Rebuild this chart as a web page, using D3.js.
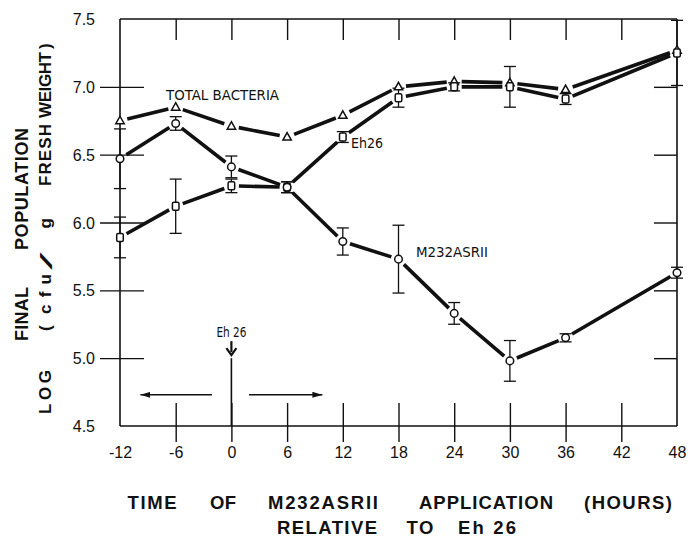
<!DOCTYPE html>
<html>
<head>
<meta charset="utf-8">
<script src="https://cdn.jsdelivr.net/npm/d3@7"></script>
<style>
  body { margin: 0; background: #fff; }
  svg { display: block; }
  text { font-family: "Liberation Sans", Arial, sans-serif; fill: #111; }
</style>
</head>
<body>
<div class="chart"></div>
<script>
// data
const hours = [-12, -6, 0, 6, 12, 18, 24, 30, 36, 48];
const totalBacteria = [6.75, 6.85, 6.71, 6.63, 6.79, 7.0, 7.04, 7.03, 6.98, 7.27];
const eh26 = [5.89, 6.12, 6.27, 6.26, 6.63, 6.92, 7.0, 7.0, 6.91, 7.25];
const eh26Err = [0.15, 0.2, 0.05, 0.04, 0.04, 0.07, 0.03, 0.15, 0.04, 0.24];
const m232 = [6.47, 6.73, 6.41, 6.26, 5.86, 5.73, 5.33, 4.98, 5.15, 5.63];
const m232Err = [0.22, 0.05, 0.08, 0.04, 0.1, 0.25, 0.08, 0.15, 0.03, 0.04];
const xTicks = [-12, -6, 0, 6, 12, 18, 24, 30, 36, 42, 48];
const yTicks = [4.5, 5.0, 5.5, 6.0, 6.5, 7.0, 7.5];

// annotation: Eh26 applied at hour 0, arrows before / after
const applyMark = { hour: 0, value: 5.0 };
const timeArrows = [
  { from: -2.1, to: -9.8, value: 4.73 },
  { from: 1.9, to: 9.8, value: 4.73 }
];

const W = 688, H = 539;
const svg = d3.select(".chart").append("svg").attr("width", W).attr("height", H);

const x = d3.scaleLinear().domain([-12, 48]).range([120, 677]);
const y = d3.scaleLinear().domain([4.5, 7.5]).range([426, 19]);

const ink = "#111";

// frame lines
svg.append("g").attr("stroke", ink).attr("stroke-width", 1.6).attr("fill", "none")
  .selectAll("line")
  .data([
    [x(-12), y(7.5), x(48), y(7.5)],
    [x(-12), y(4.5), x(48), y(4.5)],
    [x(-12), y(7.5), x(-12), y(4.5)],
    [x(48), y(7.5), x(48), y(4.5)]
  ])
  .join("line")
  .attr("x1", (d) => d[0]).attr("y1", (d) => d[1])
  .attr("x2", (d) => d[2]).attr("y2", (d) => d[3]);

// bottom axis
const xAxisG = svg.append("g")
  .attr("transform", `translate(0,${y(4.5)})`)
  .call(d3.axisBottom(x).tickValues(xTicks).tickFormat((d) => (d < 0 ? "-" : "") + Math.abs(d)).tickSizeOuter(0));
xAxisG.select(".domain").remove();
xAxisG.selectAll(".tick line")
  .attr("y1", -23).attr("y2", 16)
  .attr("stroke", ink).attr("stroke-width", 1.4)
  .attr("display", (d) => (d === -12 || d === 48 ? "none" : null));
xAxisG.selectAll(".tick text")
  .attr("y", 26).attr("dy", "0.35em")
  .attr("font-size", 16).attr("fill", ink)
  .style("font-family", "'Liberation Sans', Arial, sans-serif");

// top axis (ticks inward only)
const topG = svg.append("g")
  .attr("transform", `translate(0,${y(7.5)})`)
  .call(d3.axisTop(x).tickValues(xTicks.slice(1, -1)).tickFormat("").tickSizeOuter(0));
topG.select(".domain").remove();
topG.selectAll(".tick line").attr("y2", 21).attr("stroke", ink).attr("stroke-width", 1.4);

// left axis
const yAxisG = svg.append("g")
  .attr("transform", `translate(${x(-12)},0)`)
  .call(d3.axisLeft(y).tickValues(yTicks).tickFormat(d3.format(".1f")).tickSizeOuter(0));
yAxisG.select(".domain").remove();
yAxisG.selectAll(".tick line")
  .attr("x1", 24).attr("x2", -20)
  .attr("stroke", ink).attr("stroke-width", 1.4)
  .attr("display", (d) => (d === 4.5 || d === 7.5 ? "none" : null));
yAxisG.selectAll(".tick text")
  .attr("x", -25).attr("dy", "0.35em")
  .attr("font-size", 16).attr("fill", ink)
  .style("font-family", "'Liberation Sans', Arial, sans-serif");

// right axis (ticks inward only)
const rightG = svg.append("g")
  .attr("transform", `translate(${x(48)},0)`)
  .call(d3.axisRight(y).tickValues(yTicks.slice(1, -1)).tickFormat("").tickSizeOuter(0));
rightG.select(".domain").remove();
rightG.selectAll(".tick line").attr("x2", -23).attr("stroke", ink).attr("stroke-width", 1.4);

// Eh26 application marker
const ax = x(applyMark.hour), ay = y(applyMark.value);
svg.append("line")
  .attr("x1", ax).attr("x2", ax).attr("y1", ay).attr("y2", y(4.5))
  .attr("stroke", ink).attr("stroke-width", 1.6);
svg.append("line")
  .attr("x1", ax).attr("x2", ax).attr("y1", ay - 17).attr("y2", ay - 6)
  .attr("stroke", ink).attr("stroke-width", 2.2);
svg.append("path")
  .attr("d", `M${ax - 5},${ay - 10} L${ax},${ay - 3} L${ax + 5},${ay - 10}`)
  .attr("fill", "none").attr("stroke", ink).attr("stroke-width", 2.2);
svg.append("text")
  .attr("x", ax).attr("y", ay - 21)
  .attr("text-anchor", "middle").attr("font-size", 14)
  .attr("textLength", 30).attr("lengthAdjust", "spacingAndGlyphs")
  .style("font-family", "'DejaVu Sans Condensed', 'Liberation Sans Narrow', 'Liberation Sans', sans-serif")
  .text("Eh 26");

// before / after arrows
svg.append("defs").append("marker")
  .attr("id", "head").attr("viewBox", "0 0 10 6")
  .attr("refX", 10).attr("refY", 3)
  .attr("markerWidth", 10).attr("markerHeight", 6)
  .attr("markerUnits", "userSpaceOnUse").attr("orient", "auto")
  .append("path").attr("d", "M0,0 L10,3 L0,6 Z").attr("fill", ink);

svg.append("g").selectAll("line")
  .data(timeArrows)
  .join("line")
  .attr("x1", (d) => x(d.from)).attr("x2", (d) => x(d.to))
  .attr("y1", (d) => y(d.value)).attr("y2", (d) => y(d.value))
  .attr("stroke", ink).attr("stroke-width", 1.5)
  .attr("marker-end", "url(#head)");

// series lines with gaps at the markers
function gapSegments(values) {
  const pts = hours.map((h, i) => [x(h), y(values[i])]);
  const segs = [];
  for (let i = 0; i < pts.length - 1; i++) {
    const [x0, y0] = pts[i], [x1, y1] = pts[i + 1];
    const len = Math.hypot(x1 - x0, y1 - y0);
    const g = 7.5;
    const ux = (x1 - x0) / len, uy = (y1 - y0) / len;
    segs.push([x0 + ux * g, y0 + uy * g, x1 - ux * g, y1 - uy * g]);
  }
  return segs;
}

[totalBacteria, eh26, m232].forEach((vals) => {
  svg.append("g").selectAll("line")
    .data(gapSegments(vals))
    .join("line")
    .attr("x1", (d) => d[0]).attr("y1", (d) => d[1])
    .attr("x2", (d) => d[2]).attr("y2", (d) => d[3])
    .attr("stroke", ink).attr("stroke-width", 3.6)
    .attr("stroke-linecap", "butt");
});

// error bars
function errorBars(values, errs) {
  const g = svg.append("g").attr("stroke", ink).attr("stroke-width", 1.3);
  const rows = hours.map((h, i) => ({ h, v: values[i], e: errs[i] }));
  g.selectAll(".bar").data(rows).join("line").attr("class", "bar")
    .attr("x1", (d) => x(d.h)).attr("x2", (d) => x(d.h))
    .attr("y1", (d) => y(d.v + d.e)).attr("y2", (d) => y(d.v - d.e));
  g.selectAll(".capHi").data(rows).join("line").attr("class", "capHi")
    .attr("x1", (d) => x(d.h) - 6).attr("x2", (d) => x(d.h) + 6)
    .attr("y1", (d) => y(d.v + d.e)).attr("y2", (d) => y(d.v + d.e));
  g.selectAll(".capLo").data(rows).join("line").attr("class", "capLo")
    .attr("x1", (d) => x(d.h) - 6).attr("x2", (d) => x(d.h) + 6)
    .attr("y1", (d) => y(d.v - d.e)).attr("y2", (d) => y(d.v - d.e));
}
errorBars(eh26, eh26Err);
errorBars(m232, m232Err);

// markers
svg.append("g").selectAll("path")
  .data(hours.map((h, i) => [x(h), y(totalBacteria[i])]))
  .join("path")
  .attr("d", (d) => `M${d[0]},${d[1] - 4.5} L${d[0] + 4.2},${d[1] + 3} L${d[0] - 4.2},${d[1] + 3} Z`)
  .attr("fill", "#fff").attr("stroke", ink).attr("stroke-width", 1.5);

svg.append("g").selectAll("rect")
  .data(hours.map((h, i) => [x(h), y(eh26[i])]))
  .join("rect")
  .attr("x", (d) => d[0] - 3.3).attr("y", (d) => d[1] - 4)
  .attr("width", 6.6).attr("height", 8).attr("rx", 1.5)
  .attr("fill", "#fff").attr("stroke", ink).attr("stroke-width", 1.5);

svg.append("g").selectAll("circle")
  .data(hours.map((h, i) => [x(h), y(m232[i])]))
  .join("circle")
  .attr("cx", (d) => d[0]).attr("cy", (d) => d[1]).attr("r", 3.8)
  .attr("fill", "#fff").attr("stroke", ink).attr("stroke-width", 1.5);

// series labels
const labelFont = "'DejaVu Sans Condensed', 'Liberation Sans Narrow', 'Liberation Sans', sans-serif";
[
  { t: "TOTAL BACTERIA", x: 166, y: 100, len: 113 },
  { t: "Eh26", x: 351, y: 148, len: 32 },
  { t: "M232ASRII", x: 416, y: 257, len: 72 }
].forEach((d) => {
  svg.append("text")
    .attr("x", d.x).attr("y", d.y)
    .attr("font-size", 13.5)
    .attr("textLength", d.len).attr("lengthAdjust", "spacingAndGlyphs")
    .style("font-family", labelFont)
    .text(d.t);
});

// axis titles
const xTitle = [
  { t: "TIME", c: 152, len: 49, y: 509 },
  { t: "OF", c: 223, len: 26, y: 509 },
  { t: "M232ASRII", c: 323, len: 110, y: 509 },
  { t: "APPLICATION", c: 486, len: 134, y: 509 },
  { t: "(HOURS)", c: 628, len: 88, y: 509 },
  { t: "RELATIVE", c: 327, len: 100, y: 534 },
  { t: "TO", c: 420, len: 27, y: 534 },
  { t: "Eh 26", c: 487, len: 58, y: 534 }
];
svg.append("g").selectAll("text")
  .data(xTitle)
  .join("text")
  .attr("x", (d) => d.c - d.len / 2).attr("y", (d) => d.y)
  .attr("font-size", 18.5).attr("font-weight", "bold")
  .attr("textLength", (d) => d.len).attr("lengthAdjust", "spacing")
  .text((d) => d.t);

const yTitle = [
  { t: "POPULATION", c: 189, len: 122, bx: 28, fs: 18 },
  { t: "FINAL", c: 314, len: 54, bx: 28, fs: 18 },
  { t: ")", c: 46, len: 6, bx: 51, fs: 17 },
  { t: "WEIGHT", c: 85, len: 66, bx: 51, fs: 17 },
  { t: "FRESH", c: 155, len: 62, bx: 51, fs: 17 },
  { t: "g", c: 223, len: 11, bx: 51, fs: 17 },
  { t: "cfu", c: 294, len: 40, bx: 51, fs: 17 },
  { t: "(", c: 328, len: 6, bx: 51, fs: 17 },
  { t: "LOG", c: 392, len: 44, bx: 51, fs: 17 }
];
svg.append("g").selectAll("text")
  .data(yTitle)
  .join("text")
  .attr("transform", (d) => `translate(${d.bx},${d.c + d.len / 2}) rotate(-90)`)
  .attr("font-size", (d) => d.fs).attr("font-weight", "bold")
  .attr("textLength", (d) => d.len).attr("lengthAdjust", "spacing")
  .text((d) => d.t);

// the long slash between "cfu" and "g"
svg.append("text")
  .attr("transform", `translate(52,270) rotate(-90) scale(3.2,0.85)`)
  .attr("font-size", 20)
  .text("/");
</script>
</body>
</html>
